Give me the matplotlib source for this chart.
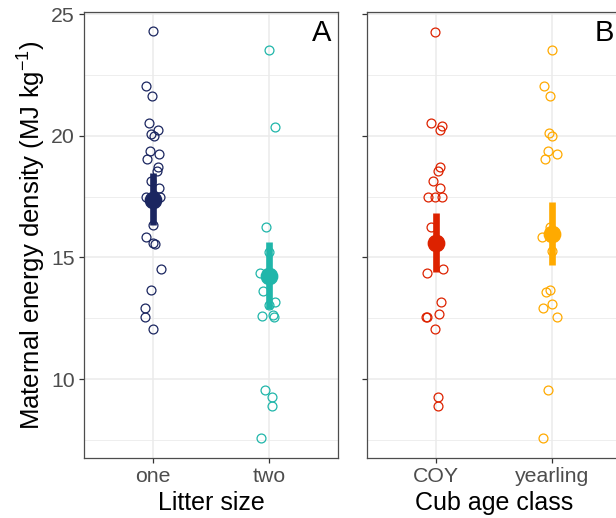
import matplotlib
matplotlib.use('Agg')
import matplotlib.pyplot as plt
from matplotlib.ticker import MultipleLocator

plt.rcParams['font.family'] = ['Liberation Sans', 'DejaVu Sans']
plt.rcParams['mathtext.fontset'] = 'custom'
plt.rcParams['mathtext.rm'] = 'Liberation Sans'
plt.rcParams['mathtext.it'] = 'Liberation Sans:italic'

# --- data ---
litter_cats = ['one', 'two']
litter_colors = ['#1B2660', '#20B6AA']

one_vals = [24.3, 22.06, 21.66, 20.52, 20.25, 20.08, 20.01, 19.40, 19.26, 19.05,
            18.71, 18.57, 18.15, 17.85, 17.50, 17.48, 16.34, 15.85, 15.61, 15.56,
            14.51, 13.66, 12.91, 12.54, 12.06]
one_jit = [-0.005, -0.063, -0.009, -0.035, 0.043, -0.023, 0.006, -0.029, 0.049, -0.057,
           0.041, 0.029, -0.020, 0.047, -0.063, 0.058, 0.0, -0.063, -0.005, 0.015,
           0.064, -0.017, -0.069, -0.072, 0.0]

two_vals = [23.54, 20.38, 16.27, 15.24, 14.37, 13.62, 13.16, 13.05, 12.60, 12.63,
            12.54, 9.55, 9.27, 8.90, 7.58]
two_jit = [0.003, 0.057, -0.023, 0.005, -0.075, -0.047, 0.057, 0.0, -0.061, 0.035,
           0.046, -0.029, 0.031, 0.026, -0.069]

litter_mean = [17.38, 14.24]
litter_lo = [16.34, 12.87]
litter_hi = [18.46, 15.65]

age_cats = ['COY', 'yearling']
age_colors = ['#DD2200', '#FFAA00']

coy_vals = [24.29, 20.52, 20.41, 20.25, 18.71, 18.55, 18.15, 17.86, 17.50, 17.50,
            17.48, 16.27, 14.51, 14.37, 13.16, 12.66, 12.57, 12.54, 12.06, 9.27, 8.90]
coy_jit = [-0.014, -0.043, 0.049, 0.032, 0.032, 0.015, -0.026, 0.032, -0.069, -0.009,
           0.052, -0.043, 0.058, -0.078, 0.041, 0.026, -0.078, -0.087, -0.009, 0.017, 0.017]

yrl_vals = [23.54, 22.06, 21.66, 20.11, 20.01, 19.40, 19.26, 19.05, 16.27, 15.86,
            15.27, 13.66, 13.60, 13.07, 12.91, 12.57, 9.55, 7.58]
yrl_jit = [0.0, -0.066, -0.011, -0.023, 0.0, -0.031, 0.043, -0.055, -0.011, -0.083,
           0.006, -0.017, -0.046, 0.0, -0.075, 0.043, -0.031, -0.075]

age_mean = [15.58, 15.98]
age_lo = [14.42, 14.69]
age_hi = [16.82, 17.30]

GRID = '#EBEBEB'
BORDER = '#4D4D4D'


def panel(ax, cats, colors, groups, means, lo, hi, letter, xlabel, ylabels=True):
    ax.set_xlim(0.4, 2.6)
    ax.set_ylim(6.75, 25.1)
    ax.yaxis.set_major_locator(MultipleLocator(5))
    ax.yaxis.set_minor_locator(MultipleLocator(2.5))
    ax.grid(True, which='major', color=GRID, lw=1.1, zorder=0)
    ax.grid(True, which='minor', axis='y', color=GRID, lw=0.6, zorder=0)
    ax.set_axisbelow(True)
    for s in ax.spines.values():
        s.set_color(BORDER)
        s.set_linewidth(0.9)

    for i, (vals, jit) in enumerate(groups):
        pos = i + 1
        c = colors[i]
        # CI bar + mean, then the raw points (open) over them
        ax.vlines(pos, lo[i], hi[i], color=c, lw=4.8, capstyle='butt', zorder=3)
        ax.plot(pos, means[i], 'o', color=c, ms=11.8, zorder=4)
        xs = [pos + j for j in jit]
        ax.plot(xs, vals, 'o', mfc='none', mec=c, mew=0.9, ms=6.4, ls='none', zorder=5)

    ax.set_xticks([1, 2])
    ax.set_xticklabels(cats)
    ax.tick_params(axis='both', which='major', length=3.8, width=0.9, color='#333333',
                   labelsize=15.3, labelcolor='#4D4D4D', pad=3)
    ax.tick_params(axis='y', which='minor', length=0)
    if not ylabels:
        ax.set_yticklabels([])
    ax.set_xlabel(xlabel, fontsize=18, labelpad=3)
    ax.text(0.972, 0.985, letter, transform=ax.transAxes, ha='right', va='top', fontsize=21)


fig = plt.figure(figsize=(6.16, 5.18), dpi=100)
axA = fig.add_axes([84 / 616, 60 / 518, 254 / 616, 446 / 518])
axB = fig.add_axes([367 / 616, 60 / 518, 254 / 616, 446 / 518])

panel(axA, litter_cats, litter_colors, [(one_vals, one_jit), (two_vals, two_jit)],
      litter_mean, litter_lo, litter_hi, 'A', 'Litter size')
panel(axB, age_cats, age_colors, [(coy_vals, coy_jit), (yrl_vals, yrl_jit)],
      age_mean, age_lo, age_hi, 'B', 'Cub age class', ylabels=False)

axA.set_ylabel('Maternal energy density (MJ kg$^{-1}$)', fontsize=18.5, labelpad=2)

fig.savefig('out.png', dpi=100)
